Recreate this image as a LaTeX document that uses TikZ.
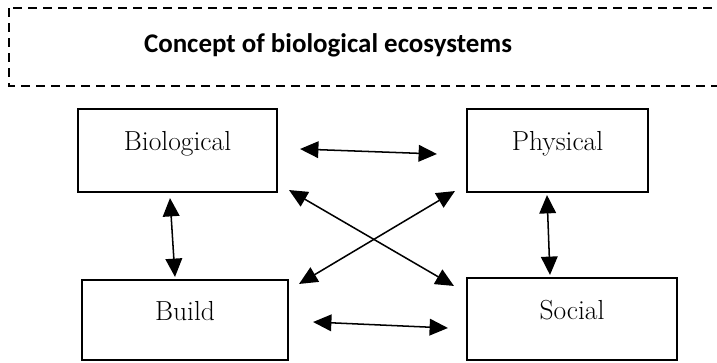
\documentclass[tikz,border=0pt]{standalone}
\usepackage{amsmath,amssymb}
\usepackage{fontspec}
\newfontfamily\titlefont{Carlito}
\usetikzlibrary{arrows.meta,calc}

\begin{document}
\begin{tikzpicture}[x=0.03cm,y=-0.03cm]
\tikzstyle{every node}+=[inner sep=0pt]
\tikzstyle{box}=[draw=black,line width=1.8pt,text height=0.6cm,text depth=0.6cm,font=\fontsize{23.5}{28}\selectfont]
\tikzstyle{link}=[black,line width=1.3pt,{Triangle[length=0.55cm,width=0.5cm]}-{Triangle[length=0.55cm,width=0.5cm]}]
\useasboundingbox (0,0) rectangle (717,363);
\draw [black,line width=1.6pt,dash pattern=on 0.27cm off 0.18cm] (9,8) rectangle (740,86);
\node (title) at (328,45) {\titlefont\bfseries\fontsize{23}{27}\selectfont Concept of biological ecosystems};
\node [box,minimum width=5.97cm,minimum height=2.49cm] (bio) at (177.5,150.5) {Biological};
\node [box,minimum width=5.43cm,minimum height=2.49cm] (phy) at (557.5,150.5) {Physical};
\node [box,minimum width=6.18cm,minimum height=2.4cm] (bld) at (185,320) {Build};
\node [box,minimum width=6.3cm,minimum height=2.46cm] (soc) at (572,319) {Social};
\draw [link] ($(bio.east)+(22,-1.5)$) -- ($(phy.west)+(-29,3.5)$);
\draw [link] ($(bld.east)+(24,2)$) -- ($(soc.west)+(-18,9)$);
\draw [link] ($(bio.south)+(-7.5,5)$) -- ($(bld.north)+(-10,-2)$);
\draw [link] ($(phy.south)+(-10.5,2)$) -- ($(soc.north)+(-22,-2)$);
\draw [link] ($(bio.south east)+(11,-3)$) -- ($(soc.north west)+(-12,9)$);
\draw [link] ($(phy.south west)+(-11,-2)$) -- ($(bld.north east)+(10,5)$);
\end{tikzpicture}
\end{document}
